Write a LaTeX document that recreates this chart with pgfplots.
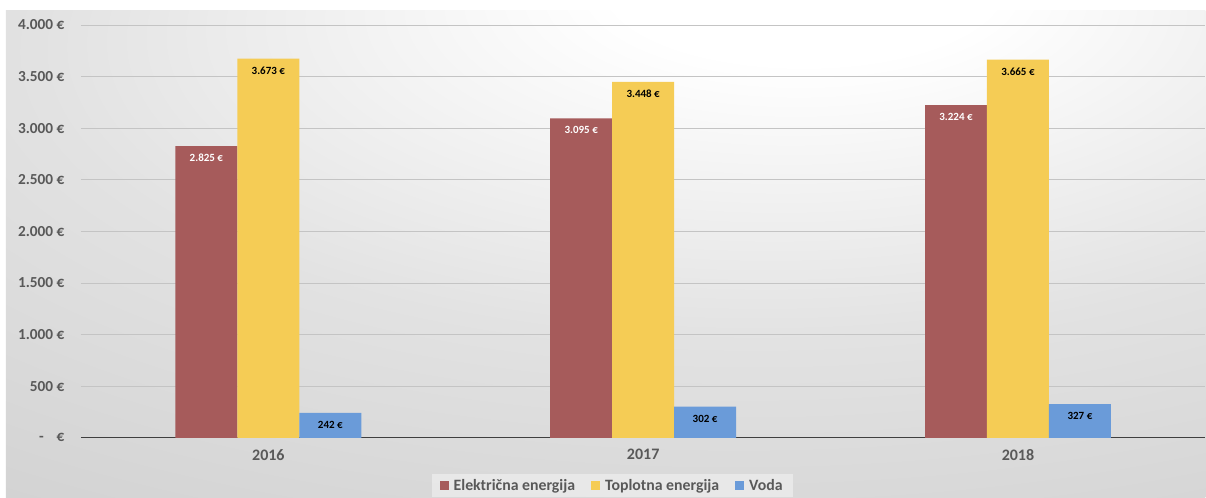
\documentclass[border=0pt]{standalone}
\usepackage{pgfplots}
\pgfplotsset{compat=1.18}
\usepackage{fontspec}
\setmainfont{Carlito}

\definecolor{elec}{HTML}{A65B5B}
\definecolor{topl}{HTML}{F5CC55}
\definecolor{voda}{HTML}{6A9BD9}
\definecolor{lbl}{HTML}{595959}
\definecolor{gridc}{HTML}{C4C4C4}
\definecolor{axisc}{HTML}{3F3F3F}
\definecolor{bgmid}{HTML}{E2E2E2}
\definecolor{bgfar}{HTML}{CFCFCF}
\definecolor{bgout}{HTML}{BFBFBF}

% soft radial backdrop, brightest near the top centre
\pgfdeclareradialshading{chartbg}{\pgfpoint{9bp}{30bp}}{%
  color(0bp)=(white); color(8bp)=(white); color(30bp)=(bgmid);
  color(55bp)=(bgfar); color(85bp)=(bgout); color(100bp)=(bgout)}

\begin{document}
\begin{tikzpicture}
\path[fill=white] (-81pt,-60pt) rectangle (1125pt,438pt);
\path[shading=chartbg] (-75pt,-60pt) rectangle (1125pt,427pt);
\begin{axis}[
  at={(0pt,0pt)}, anchor=south west,
  scale only axis, width=1125pt, height=413pt,
  xmin=-0.5, xmax=2.5, ymin=0, ymax=4000,
  ybar=0pt, bar width=62pt,
  axis line style={draw=none},
  major tick length=0pt,
  xtick={0,1,2}, xticklabels={2016,2017,2018},
  ytick={500,1000,...,4000},
  yticklabels={{500 €},{1.000 €},{1.500 €},{2.000 €},{2.500 €},{3.000 €},{3.500 €},{4.000 €}},
  extra y ticks={0},
  extra y tick labels={{-\hspace{13pt}€}},
  extra y tick style={grid style={color=axisc, line width=1.3pt}},
  ymajorgrids, grid style={color=gridc, line width=0.9pt},
  tick label style={font=\fontsize{15.3}{17}\selectfont\bfseries, text=lbl},
  yticklabel style={xshift=-13pt},
  xticklabel style={yshift=-8pt, font=\fontsize{16}{18}\selectfont\bfseries},
  /pgf/number format/assume math mode=true,
  nodes near coords={\pgfmathprintnumber[fixed,precision=0,1000 sep={.}]{\pgfplotspointmeta}~€},
  every node near coord/.append style={anchor=center, yshift=-12pt,
    font=\fontsize{11}{13}\selectfont\bfseries, text=black},
  legend image code/.code={\fill[#1, fill opacity=1] (0pt,-4.5pt) rectangle (9pt,4.5pt);
    \path (12pt,0pt);},
  legend style={at={(0.4724,-0.115)}, anchor=center, legend columns=-1,
    draw=none, fill=white, fill opacity=0.4, text opacity=1,
    inner xsep=8pt, inner ysep=3pt,
    font=\fontsize{15.8}{18}\selectfont\bfseries, text=lbl,
    /tikz/every even column/.append style={column sep=14pt}},
  legend cell align=left,
]
\addplot[fill=elec, draw=none, every node near coord/.append style={text=white}]
  coordinates {(0,2825) (1,3095) (2,3224)};
\addplot[fill=topl, draw=none]
  coordinates {(0,3673) (1,3448) (2,3665)};
\addplot[fill=voda, draw=none]
  coordinates {(0,242) (1,302) (2,327)};
\legend{Električna energija, Toplotna energija, Voda}
\end{axis}
\end{tikzpicture}
\end{document}
